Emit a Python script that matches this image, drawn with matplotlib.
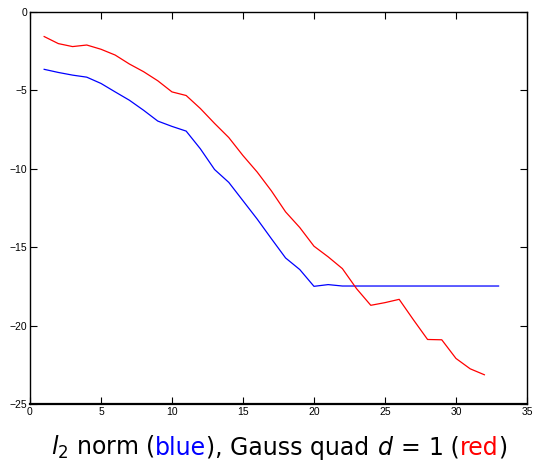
import matplotlib
matplotlib.use('Agg')
import matplotlib.pyplot as plt
import numpy as np

# l2 norm (blue)
x_blue = np.arange(1, 34)
y_blue = [-3.65, -3.85, -4.02, -4.15, -4.55, -5.09, -5.62, -6.26, -6.95, -7.29,
          -7.59, -8.72, -10.04, -10.86, -12.03, -13.2, -14.45, -15.68, -16.42, -17.49,
          -17.38, -17.47, -17.47, -17.47, -17.47, -17.47, -17.47, -17.47, -17.47, -17.47,
          -17.47, -17.47, -17.47]

# Gauss quad d=1 (red)
x_red = np.arange(1, 33)
y_red = [-1.56, -2.01, -2.2, -2.1, -2.37, -2.74, -3.31, -3.8, -4.38, -5.09,
         -5.32, -6.15, -7.1, -8.0, -9.15, -10.2, -11.4, -12.74, -13.74, -14.93,
         -15.61, -16.36, -17.64, -18.7, -18.53, -18.32, -19.62, -20.88, -20.9, -22.09,
         -22.75, -23.13]

caption = [(r'$l_2$ norm (', 'black'), ('blue', 'blue'), ('), Gauss quad ', 'black'),
           (r'$d\,=\,1$', 'black'), (' (', 'black'), ('red', 'red'), (')', 'black')]

plt.rcParams['font.family'] = ['Liberation Sans', 'DejaVu Sans']
plt.rcParams['mathtext.fontset'] = 'dejavusans'

fig = plt.figure(figsize=(5.35, 4.65), dpi=100)
ax = fig.add_axes([0.056, 0.131, 0.929, 0.843])
ax.plot(x_blue, y_blue, color='blue', linewidth=0.9)
ax.plot(x_red, y_red, color='red', linewidth=0.9)
ax.set_xlim(0, 35)
ax.set_ylim(-25, 0)
ax.set_xticks(np.arange(0, 36, 5))
ax.set_yticks(np.arange(-25, 1, 5))
ax.tick_params(direction='in', top=True, right=True, length=5, width=0.8,
               labelsize=7.5, pad=2)
for s in ax.spines.values():
    s.set_linewidth(1.0)
ax.spines['bottom'].set_linewidth(1.6)

# multi-coloured caption
fig.canvas.draw()
r = fig.canvas.get_renderer()
fs = 17
widths = []
for t, c in caption:
    tt = fig.text(0, 0, t, fontsize=fs, family='DejaVu Sans')
    widths.append(tt.get_window_extent(r).width)
    tt.remove()
W = fig.get_figwidth() * fig.dpi
start = 279 - sum(widths) / 2
xpos = start
for (t, c), w in zip(caption, widths):
    fig.text(xpos / W, 0.037, t, fontsize=fs, color=c, family='DejaVu Sans',
             va='center', ha='left')
    xpos += w

fig.savefig('out.png', dpi=100)
